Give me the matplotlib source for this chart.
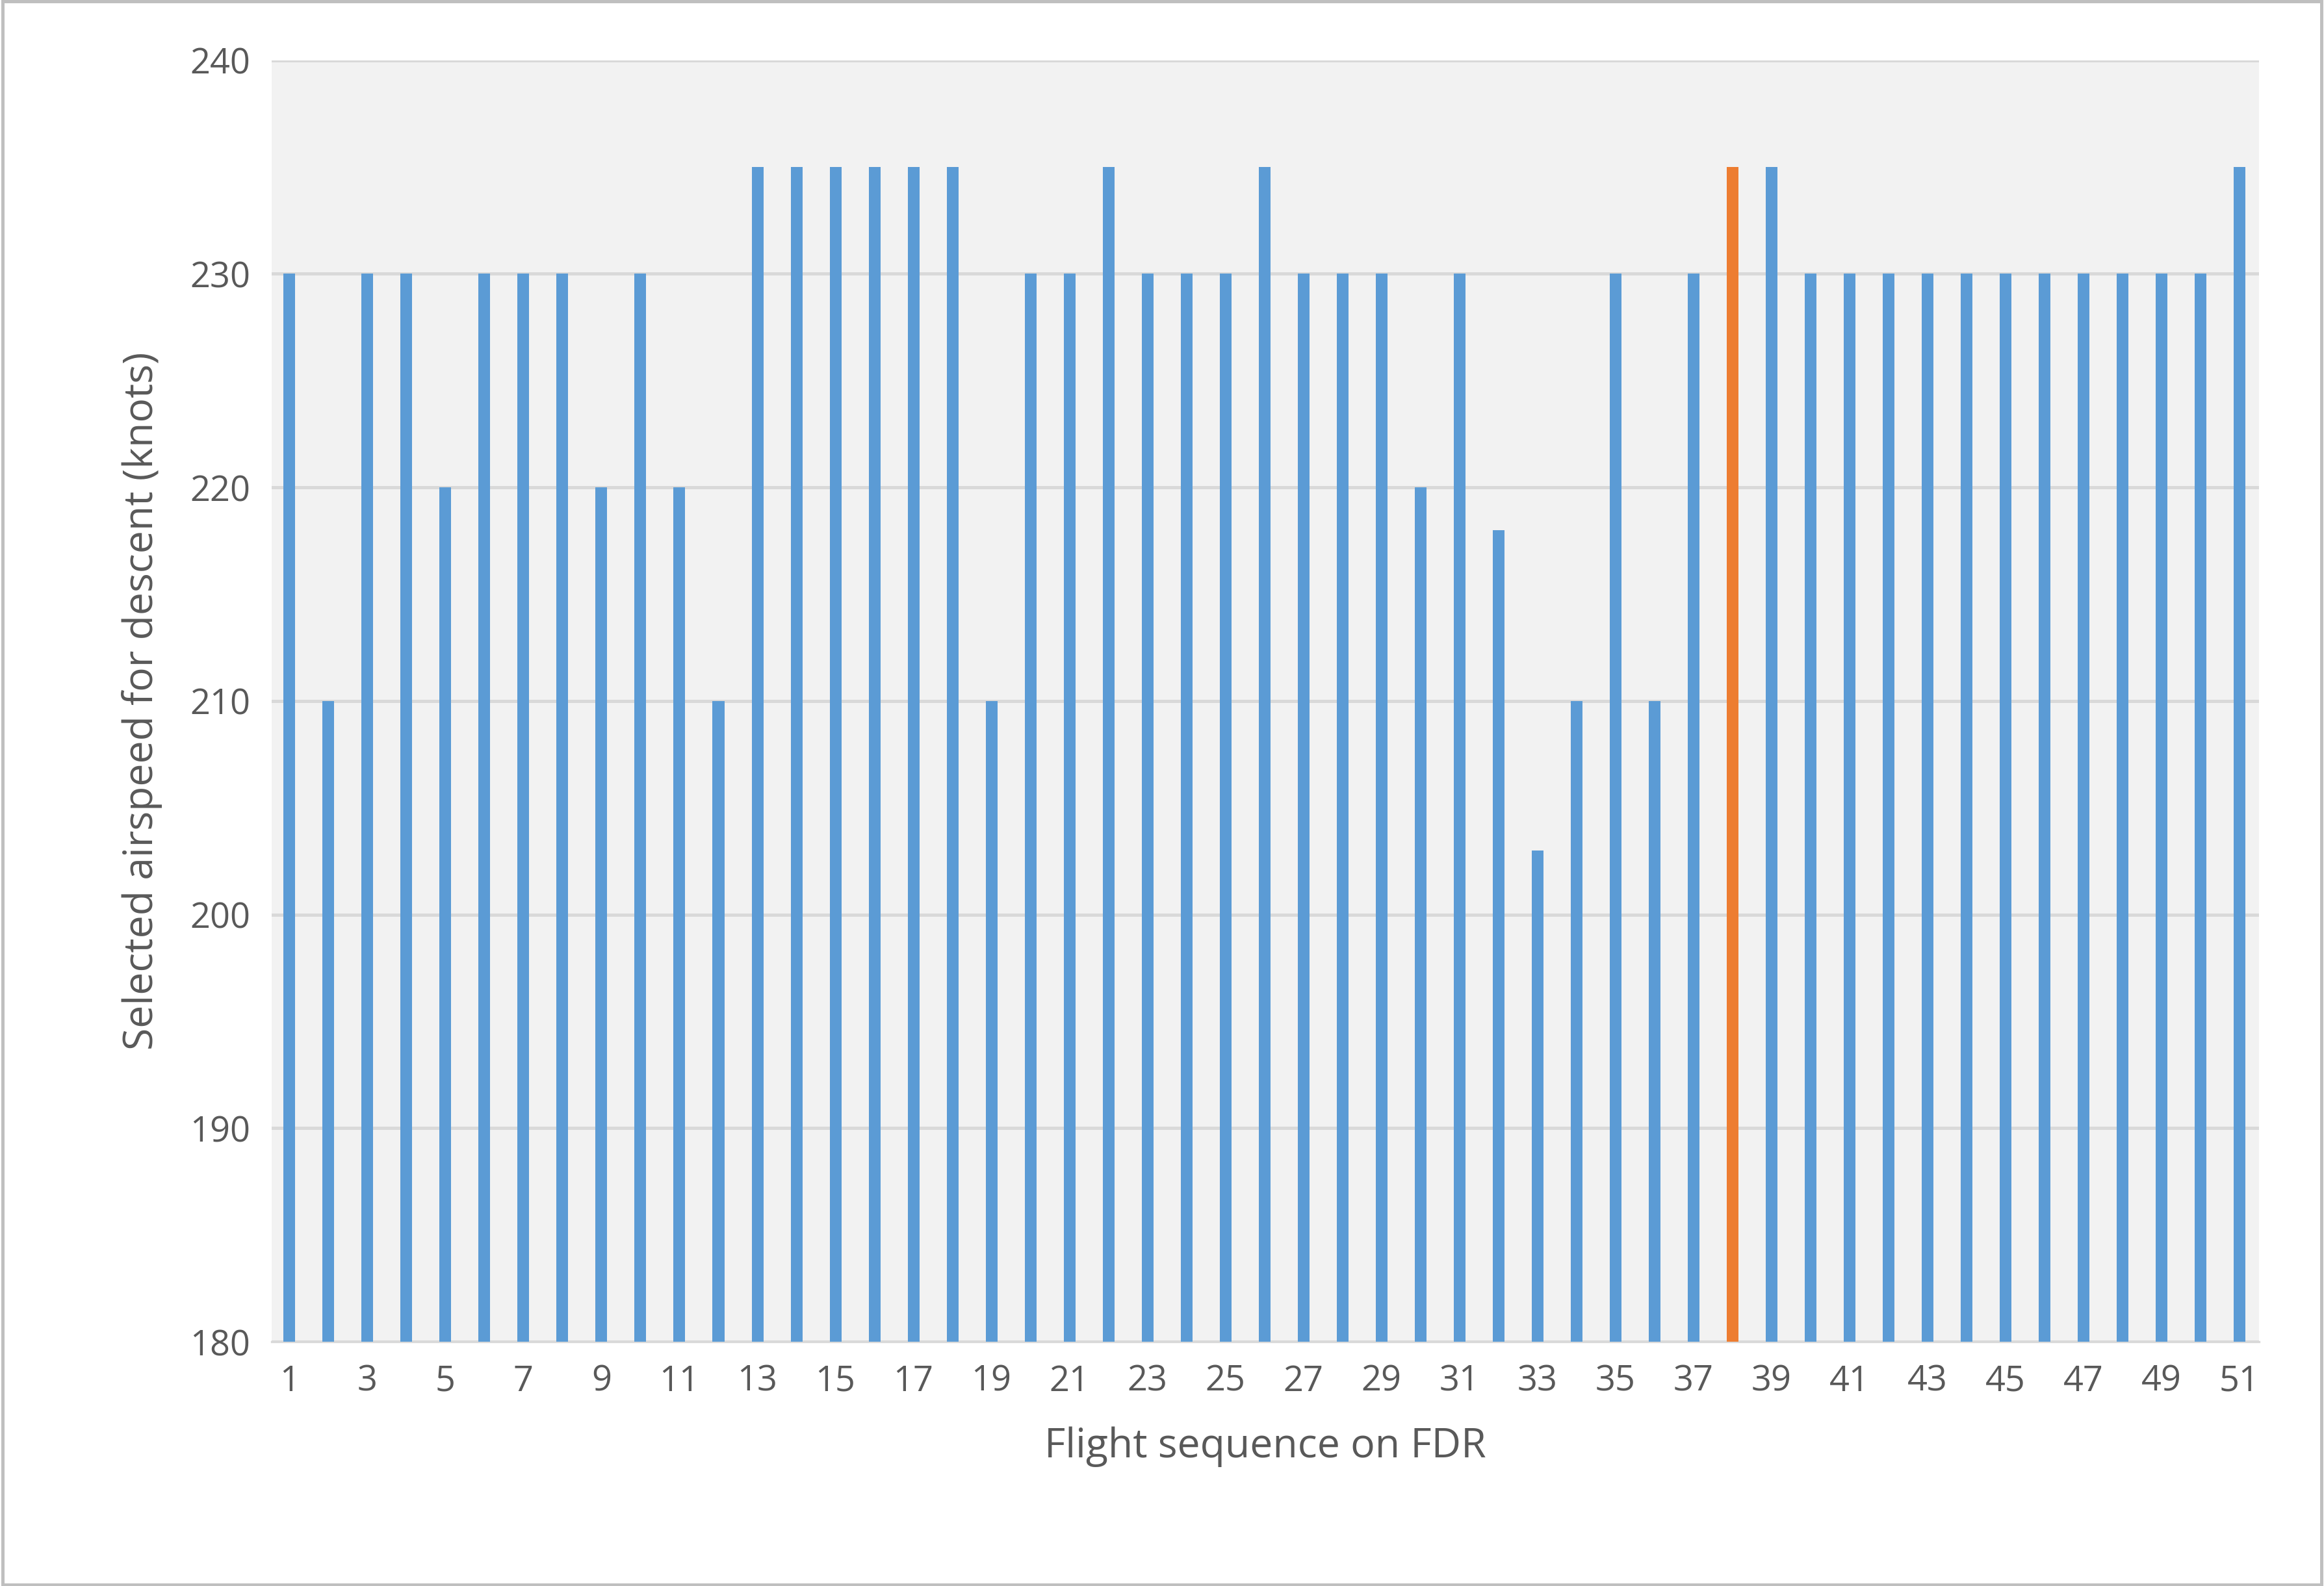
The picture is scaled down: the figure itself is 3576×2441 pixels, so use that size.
import matplotlib
matplotlib.use("Agg")
import matplotlib.pyplot as plt

plt.rcParams["font.family"] = ["Open Sans", "DejaVu Sans"]

flights = list(range(1, 52))
airspeed = [230, 210, 230, 230, 220, 230, 230, 230, 220, 230,
            220, 210, 235, 235, 235, 235, 235, 235, 210, 230,
            230, 235, 230, 230, 230, 235, 230, 230, 230, 220,
            230, 218, 203, 210, 230, 210, 230, 235, 235, 230,
            230, 230, 230, 230, 230, 230, 230, 230, 230, 230, 235]
highlight = 38

blue, orange = "#5B9BD5", "#ED7D31"
colors = [orange if f == highlight else blue for f in flights]

fig = plt.figure(figsize=(11.92, 8.137), dpi=300)
ax = fig.add_axes([0.117, 0.154, 0.855, 0.808])
ax.set_facecolor("#F2F2F2")
fig.patches.append(plt.Rectangle((0.001, 0.001), 0.998, 0.998, transform=fig.transFigure,
                                 fill=False, edgecolor="#BFBFBF", linewidth=1.2))

ax.bar(flights, [v - 180 for v in airspeed], bottom=180, width=0.3, color=colors, zorder=3)

ax.set_ylim(180, 240)
ax.set_xlim(0.55, 51.5)
ax.set_yticks(range(180, 241, 10))
ax.set_xticks(range(1, 52, 2))
ax.grid(axis="y", color="#D9D9D9", linewidth=1.2, zorder=0)
for s in ["top", "right", "left"]:
    ax.spines[s].set_visible(False)
ax.spines["bottom"].set_color("#D9D9D9")
ax.tick_params(length=0, labelsize=13, colors="#595959", pad=8)

ax.set_xlabel("Flight sequence on FDR", fontsize=15, color="#595959", labelpad=10)
ax.set_ylabel("Selected airspeed for descent (knots)", fontsize=15, color="#595959", labelpad=10)

fig.savefig("out.png", dpi=300)
